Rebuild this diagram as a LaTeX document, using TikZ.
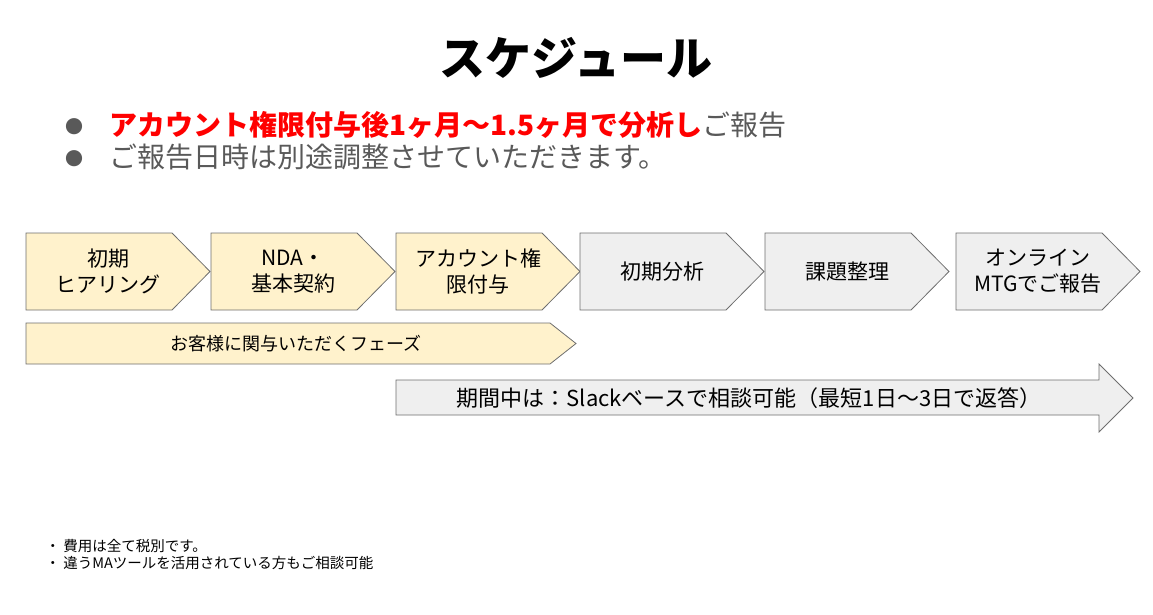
\documentclass[tikz,border=0pt]{standalone}
\usepackage{fontspec}
\setmainfont{Noto Sans CJK JP}
\begin{document}
\begin{tikzpicture}[x=1pt,y=-1pt,
  yel/.style={fill={rgb,255:red,255;green,242;blue,204},draw={rgb,255:red,110;green,110;blue,110},line width=0.8pt},
  gry/.style={fill={rgb,255:red,239;green,239;blue,239},draw={rgb,255:red,110;green,110;blue,110},line width=0.8pt},
  lab/.style={font=\fontsize{21}{26}\selectfont,align=center,text=black}]
\useasboundingbox (0,0) rectangle (1153,615);
\node[font=\fontsize{46}{54}\selectfont\bfseries] (title) at (576,58) {スケジュール};
\definecolor{gt}{RGB}{89,89,89}
\node[anchor=west,text=gt,font=\fontsize{18}{24}\selectfont] (b1) at (62,127) {●};
\node[anchor=west,text=gt,font=\fontsize{18}{24}\selectfont] (b2) at (62,159) {●};
\node[anchor=west,font=\fontsize{28}{32}\selectfont] (t1) at (106,125) {\textcolor{red}{\bfseries アカウント権限付与後1ヶ月〜1.5ヶ月で分析し}\textcolor{gt}{ご報告}};
\node[anchor=west,font=\fontsize{28}{32}\selectfont,text=gt] (t2) at (106,157) {ご報告日時は別途調整させていただきます。};
\foreach \x/\s [count=\i] in {26/yel,211/yel,396/yel,580/gry,765/gry,956/gry}{
  \draw[\s] (\x,233) -- (\x+146,233) -- (\x+184,271.5) -- (\x+146,310) -- (\x,310) -- cycle;
}
\node[lab] (c1) at (108,271.5) {初期\\ヒアリング};
\node[lab] (c2) at (293,271.5) {NDA・\\基本契約};
\node[lab] (c3) at (478,271.5) {アカウント権\\限付与};
\node[lab] (c4) at (662,271.5) {初期分析};
\node[lab] (c5) at (847,271.5) {課題整理};
\node[lab] (c6) at (1038,271.5) {オンライン\\MTGでご報告};
\draw[yel] (26,323) -- (550,323) -- (576,343.5) -- (550,364) -- (26,364) -- cycle;
\node[font=\fontsize{18}{22}\selectfont] (ph) at (296,343.5) {お客様に関与いただくフェーズ};
\draw[gry] (396,380) -- (1099,380) -- (1099,364) -- (1133,398) -- (1099,432) -- (1099,415) -- (396,415) -- cycle;
\node[font=\fontsize{22}{26}\selectfont] (sl) at (749,398) {期間中は：Slackベースで相談可能（最短1日〜3日で返答）};
\node[anchor=west,font=\fontsize{14.5}{17}\selectfont] (f1) at (42,546) {・\ 費用は全て税別です。};
\node[anchor=west,font=\fontsize{14.5}{17}\selectfont] (f2) at (42,563) {・\ 違うMAツールを活用されている方もご相談可能};
\end{tikzpicture}
\end{document}
